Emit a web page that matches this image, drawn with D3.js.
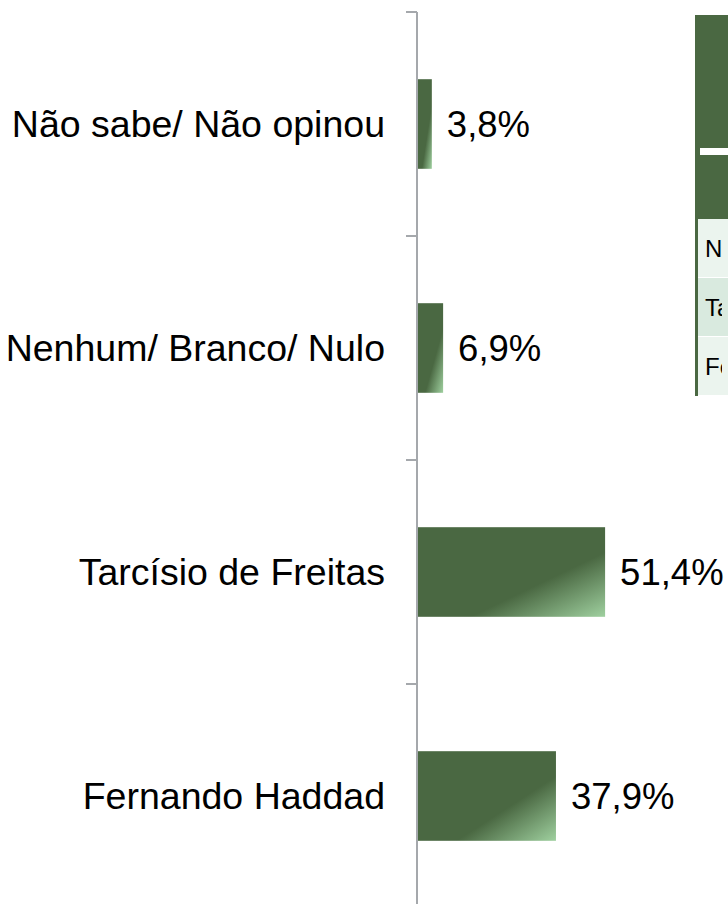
<!DOCTYPE html>
<html><head><meta charset="utf-8">
<script src="https://cdn.jsdelivr.net/npm/d3@7/dist/d3.min.js"></script>
<style>html,body{margin:0;padding:0;background:#fff;overflow:hidden}</style>
</head><body>
<script>
const categories = ["Não sabe/ Não opinou", "Nenhum/ Branco/ Nulo", "Tarcísio de Freitas", "Fernando Haddad"];
const values = [3.8, 6.9, 51.4, 37.9];
const tableRows = ["Não sabe/ Não opinou", "Tarcísio de Freitas", "Fernando Haddad"];

const W = 728, H = 904;
const svg = d3.select("body").append("svg").attr("width", W).attr("height", H)
  .style("font-family", "'Liberation Sans', Arial, sans-serif");

const defs = svg.append("defs");
const grad = defs.append("linearGradient").attr("id", "barGrad")
  .attr("x1", 0).attr("y1", 0).attr("x2", 1).attr("y2", 1);
grad.append("stop").attr("offset", "0").attr("stop-color", "#4a6842");
grad.append("stop").attr("offset", "0.64").attr("stop-color", "#4a6842");
grad.append("stop").attr("offset", "1").attr("stop-color", "#9fd09f");

const x = d3.scaleLinear().domain([0, 100]).range([418, 782]);
const y = d3.scaleBand().domain(categories).range([12, 908]).paddingInner(0.6).paddingOuter(0.3);

// bars
svg.selectAll("rect.bar").data(values).join("rect").attr("class", "bar")
  .attr("x", x(0)).attr("y", (d, i) => y(categories[i]))
  .attr("width", d => x(d) - x(0)).attr("height", y.bandwidth())
  .attr("fill", "url(#barGrad)");

// axis line + ticks at band boundaries
const axisX = 417;
svg.append("line").attr("x1", axisX).attr("x2", axisX).attr("y1", 12).attr("y2", 908)
  .attr("stroke", "#a5a8ac").attr("stroke-width", 2);
const bounds = d3.range(categories.length + 1).map(i => y.range()[0] + i * y.step());
svg.selectAll("line.tick").data(bounds).join("line").attr("class", "tick")
  .attr("x1", 406).attr("x2", axisX).attr("y1", d => d).attr("y2", d => d)
  .attr("stroke", "#a5a8ac").attr("stroke-width", 2);

// category labels
svg.selectAll("text.cat").data(categories).join("text").attr("class", "cat")
  .attr("x", 385).attr("y", d => y(d) + y.bandwidth() / 2)
  .attr("text-anchor", "end").attr("dominant-baseline", "central")
  .attr("font-size", 37.5).attr("fill", "#000").text(d => d);

// value labels
const fmt = v => v.toFixed(1).replace(".", ",") + "%";
svg.selectAll("text.val").data(values).join("text").attr("class", "val")
  .attr("x", d => x(d) + 15).attr("y", (d, i) => y(categories[i]) + y.bandwidth() / 2)
  .attr("dominant-baseline", "central")
  .attr("font-size", 36.5).attr("fill", "#000").text(d => fmt(d));

// partial table at top right (cut by the page edge, as in the reference)
const tb = svg.append("g");
tb.append("rect").attr("x", 695).attr("y", 15).attr("width", 60).attr("height", 204).attr("fill", "#4a6842");
tb.append("rect").attr("x", 700).attr("y", 148).attr("width", 60).attr("height", 7).attr("fill", "#ffffff");
const rowH = 59;
const rowFill = ["#ebf4ee", "#d9eadf", "#ebf4ee"];
tb.selectAll("rect.row").data(tableRows).join("rect").attr("class", "row")
  .attr("x", 698).attr("y", (d, i) => 219 + i * rowH).attr("width", 60).attr("height", rowH - 1)
  .attr("fill", (d, i) => rowFill[i]);
tb.append("rect").attr("x", 695).attr("y", 15).attr("width", 3).attr("height", 219 - 15 + rowH * 3).attr("fill", "#4a6842");
defs.append("clipPath").attr("id", "tclip").append("rect").attr("x", 698).attr("y", 200).attr("width", 24).attr("height", 220);
tb.append("g").attr("clip-path", "url(#tclip)")
  .selectAll("text.row").data(tableRows).join("text").attr("class", "row")
  .attr("x", 705).attr("y", (d, i) => 219 + i * rowH + rowH / 2)
  .attr("dominant-baseline", "central").attr("font-size", 24).attr("fill", "#000").text(d => d);
</script>
</body></html>
